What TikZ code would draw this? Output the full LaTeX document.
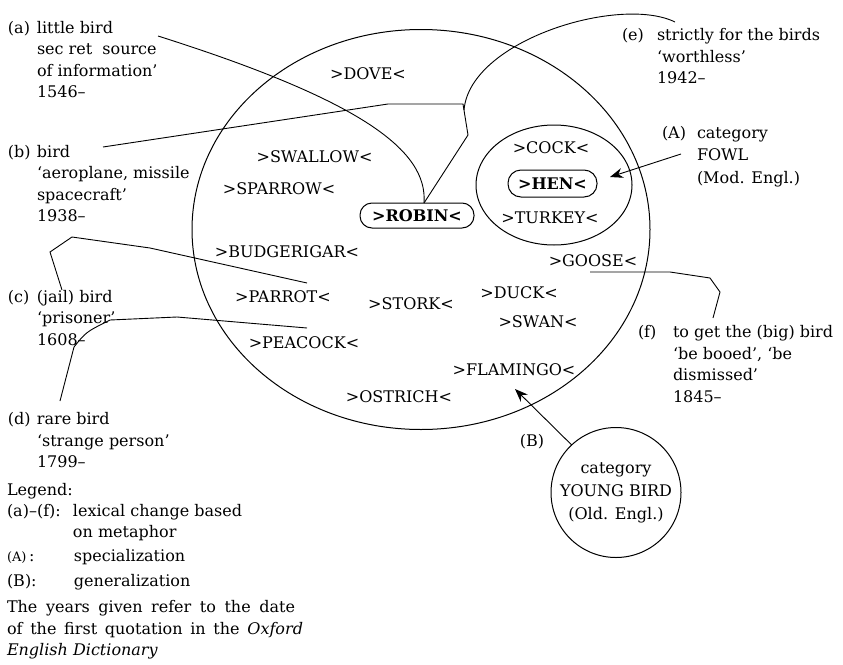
\documentclass[tikz,border=0pt]{standalone}
\usepackage{fontspec}
\setmainfont{DejaVu Serif}
\usetikzlibrary{shapes.geometric,arrows.meta}
\newcommand{\blk}[2]{\begin{tabular}[t]{@{}p{#1}@{}l@{}}#2\end{tabular}}
\begin{document}
\begin{tikzpicture}[x=1pt,y=-1pt,
  every node/.style={inner sep=0pt, outer sep=0pt},
  txt/.style={font=\fontsize{16}{21.5}\selectfont},
  cat/.style={txt, anchor=center, text height=11.7pt, text depth=0pt},
  lbl/.style={txt, anchor=base west},
  rbox/.style={draw, line width=1pt, rounded corners=12pt, minimum width=114pt, minimum height=25pt, font=\fontsize{16}{21.5}\selectfont\bfseries},
  conn/.style={line width=0.9pt},
  arr/.style={conn, -{Stealth[length=13pt,width=10pt]}},
  ring/.style={draw, line width=1pt}
]
\useasboundingbox (0,0) rectangle (843,664);

% ellipses
\node[ring, ellipse, minimum width=458pt, minimum height=400pt] (big) at (421,229.5) {};
\node[ring, ellipse, minimum width=156pt, minimum height=120pt] (fowl) at (554,185) {};
\node[ring, circle, minimum size=130pt, align=center, font=\fontsize{16}{23}\selectfont] (young) at (616,492.5) {category\\YOUNG BIRD\\(Old. Engl.)};

% words inside
\node[cat] (dove) at (368,74) {>DOVE<};
\node[cat] (swallow) at (314.5,157) {>SWALLOW<};
\node[cat] (sparrow) at (279,189) {>SPARROW<};
\node[rbox] (robin) at (417,215.5) {>ROBIN<};
\node[cat] (cock) at (551,148) {>COCK<};
\node[rbox, minimum width=89pt, minimum height=27pt, rounded corners=13pt] (hen) at (552.5,183.5) {>HEN<};
\node[cat] (turkey) at (550,218) {>TURKEY<};
\node[cat] (budgie) at (287,252) {>BUDGERIGAR<};
\node[cat] (goose) at (593,261) {>GOOSE<};
\node[cat] (duck) at (519,293) {>DUCK<};
\node[cat] (parrot) at (283,297) {>PARROT<};
\node[cat] (stork) at (411,304) {>STORK<};
\node[cat] (swan) at (538,322) {>SWAN<};
\node[cat] (peacock) at (304,343) {>PEACOCK<};
\node[cat] (flamingo) at (514,370) {>FLAMINGO<};
\node[cat] (ostrich) at (399,397) {>OSTRICH<};

% outside labels
\node[lbl] (la) at (8,33) {\blk{29pt}{(a) & little bird\\ & sec ret\ \ source\\ & of information’\\ & 1546–}};
\node[lbl] (lb) at (8,157) {\blk{29pt}{(b) & bird\\ & ‘aeroplane, missile\\ & spacecraft’\\ & 1938–}};
\node[lbl] (lc) at (8,302) {\blk{29pt}{(c) & (jail) bird\\ & ‘prisoner’\\ & 1608–}};
\node[lbl] (ld) at (8,424.5) {\blk{29pt}{(d) & rare bird\\ & ‘strange person’\\ & 1799–}};
\node[lbl] (le) at (622,40.5) {\blk{35pt}{(e) & strictly for the birds\\ & ‘worthless’\\ & 1942–}};
\node[lbl, font=\fontsize{16}{22.5}\selectfont] (lA) at (662,138) {\blk{35pt}{(A) & category\\ & FOWL\\ & (Mod. Engl.)}};
\node[lbl] (lf) at (638,337.5) {\blk{35pt}{(f) & to get the (big) bird\\ & ‘be booed’, ‘be\\ & dismissed’\\ & 1845–}};
\node[txt] (lB) at (532,442) {(B)};

% legend
\node[lbl] (leg) at (7,495.5) {Legend:};
\node[lbl, font=\fontsize{16}{21}\selectfont] (leg1) at (7,516.5) {\blk{66pt}{(a)–(f): & lexical change based\\ & on metaphor}};
\node[lbl] (leg2) at (7,561) {\makebox[67pt][l]{{\fontsize{13}{15}\selectfont(A)}\,:}specialization};
\node[lbl] (leg3) at (7,586) {\makebox[67pt][l]{(B):}generalization};
\node[lbl] (leg4) at (7,612.5) {\makebox[288pt][s]{The years given refer to the date}};
\node[lbl] (leg5) at (7,634) {\makebox[296pt][s]{of the first quotation in the \textit{Oxford}}};
\node[lbl] (leg6) at (7,655) {\textit{English Dictionary}};

% connector end points
\coordinate (a0) at (158,36);
\coordinate (b0) at (103,147);
\coordinate (b1) at (388,104);
\coordinate (b2) at (463,104);
\coordinate (b3) at (468,135);
\coordinate (e0) at (675,22);
\coordinate (e1) at (464,110);
\coordinate (c0) at (62,290);
\coordinate (c1) at (50,252);
\coordinate (c2) at (72,237);
\coordinate (c3) at (150,248);
\coordinate (c4) at (307,283);
\coordinate (d0) at (60,401);
\coordinate (d1) at (74,347);
\coordinate (d2) at (110,320);
\coordinate (d3) at (177,317);
\coordinate (d4) at (307,328);
\coordinate (f0) at (713,318);
\coordinate (f1) at (720,292);
\coordinate (f2) at (710,278);
\coordinate (f3) at (670,272);
\coordinate (f4) at (590,272);
\coordinate (A0) at (681,154);
\coordinate (A1) at (610,177);
\coordinate (B1) at (515,389);

% connectors
\draw[conn] (a0) .. controls (360,100) and (428,150) .. ([xshift=7pt]robin.north);
\draw[conn] (b0) -- (b1) -- (b2) -- (b3) -- ([xshift=7pt]robin.north);
\draw[conn] (e0) .. controls (620,-5) and (470,40) .. (e1);
\draw[conn] (c0) -- (c1) -- (c2) -- (c3) -- (c4);
\draw[conn] (d0) -- (d1) .. controls (86,332) .. (d2) -- (d3) -- (d4);
\draw[conn] (f0) -- (f1) -- (f2) -- (f3) -- (f4);
\draw[arr] (A0) -- (A1);
\draw[arr] (young.133) -- (B1);
\end{tikzpicture}
\end{document}
